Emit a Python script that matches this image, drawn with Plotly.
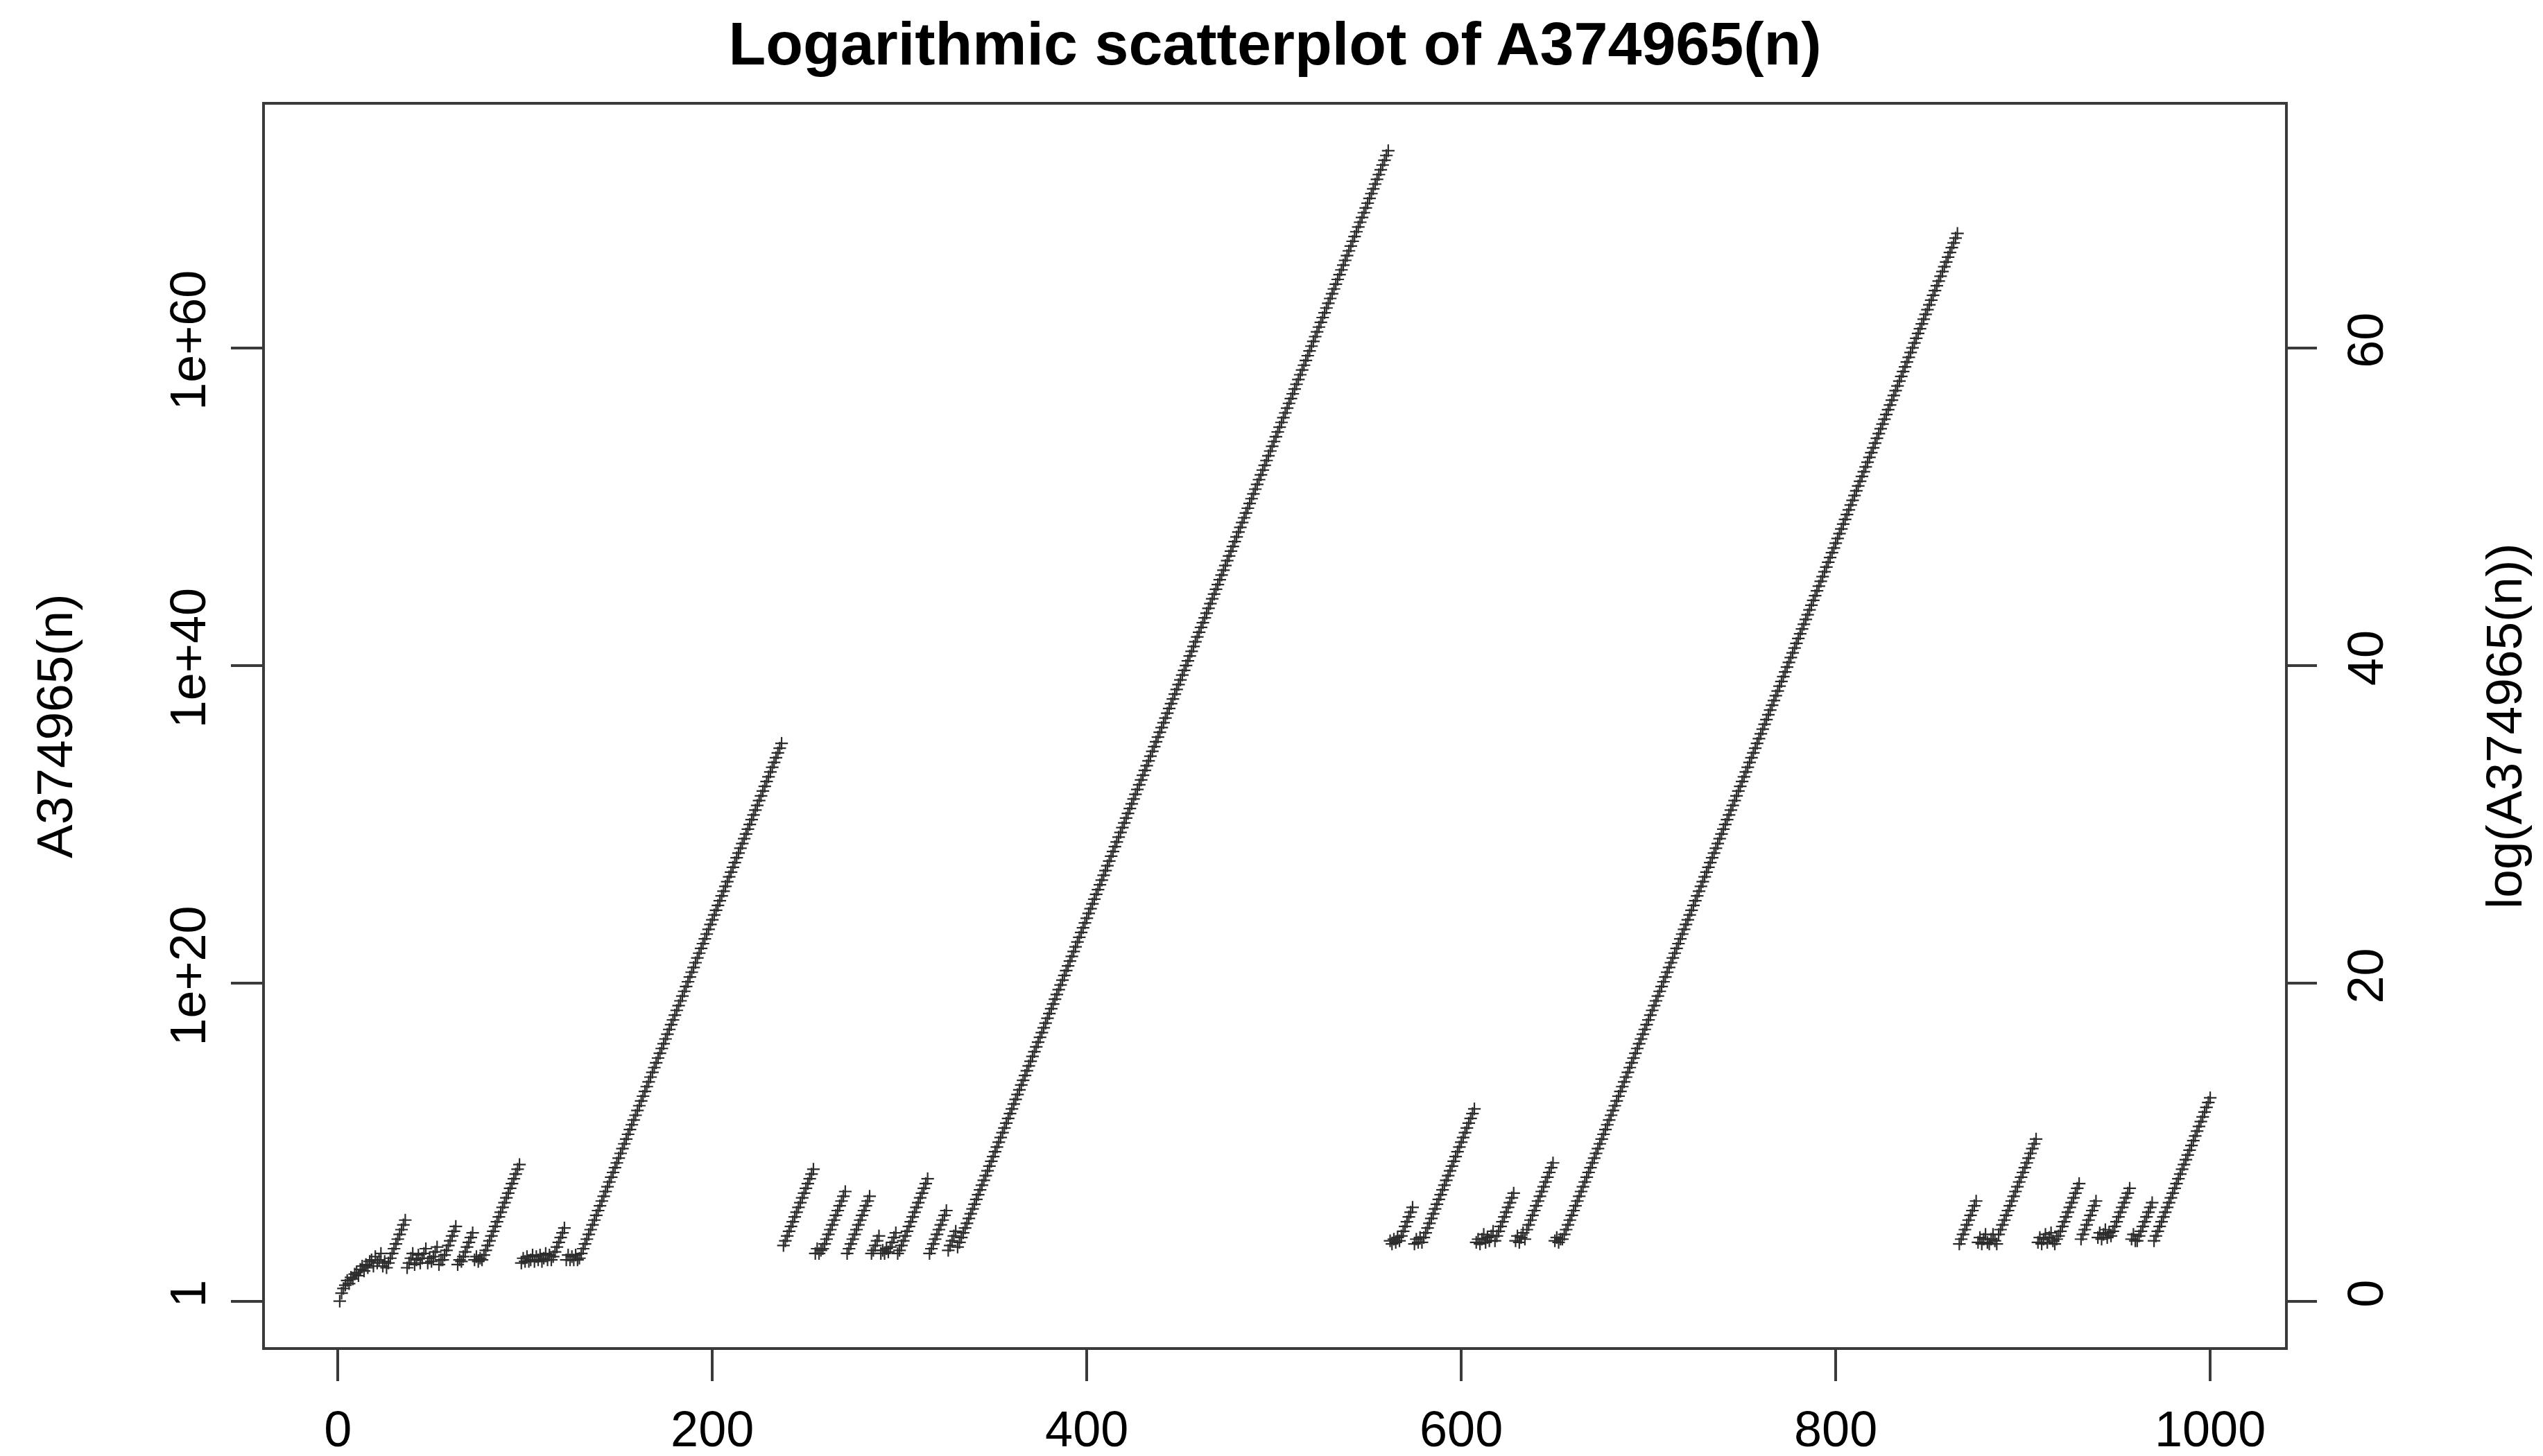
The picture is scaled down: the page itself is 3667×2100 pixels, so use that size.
import plotly.graph_objects as go

# log10 of A374965(n), in consecutive blocks of n (n = 1..1000)
log_a_0001_0036 = [0.0, 0.5, 0.8, 1.0, 1.3, 1.1, 1.5, 1.4, 1.7, 1.8, 1.6, 2.0, 2.2, 1.9, 2.3, 2.1, 2.5, 2.6,
                   2.2, 2.8, 2.4, 2.6, 3.0, 2.2, 2.5, 2.1, 2.4, 2.7, 3.0, 3.3, 3.6, 3.9, 4.2, 4.5, 4.8, 5.1]
log_a_0037_0077 = [2.1, 2.4, 2.7, 3.0, 2.3, 2.6, 2.9, 2.4, 2.7, 3.0, 3.3, 2.4, 2.7, 2.5, 2.8, 3.1, 3.4, 2.3,
                   2.6, 2.6, 2.9, 3.2, 3.5, 3.8, 4.1, 4.4, 4.7, 2.3, 2.6, 2.5, 2.8, 3.1, 3.4, 3.7, 4.0, 4.3,
                   2.6, 2.8, 2.5, 2.7, 2.6]
log_a_0078_0097 = [2.9, 3.2, 3.5, 3.8, 4.1, 4.4, 4.7, 5.0, 5.3, 5.6, 5.9, 6.2, 6.5, 6.8, 7.1, 7.4, 7.7, 8.0,
                   8.3, 8.6]
log_a_0098_0128 = [2.4, 2.7, 2.5, 2.8, 2.5, 2.6, 2.9, 2.5, 2.8, 2.6, 2.9, 2.5, 2.7, 3.0, 2.6, 2.9, 2.6, 2.8,
                   3.1, 3.4, 3.7, 4.0, 4.3, 4.6, 2.6, 2.9, 2.6, 2.8, 2.6, 2.9, 2.6]
log_a_0129_0237 = [2.7, 3.0, 3.3, 3.6, 3.9, 4.2, 4.5, 4.8, 5.1, 5.4, 5.7, 6.0, 6.3, 6.6, 6.9, 7.2, 7.5, 7.8,
                   8.1, 8.4, 8.7, 9.0, 9.3, 9.6, 9.9, 10.2, 10.5, 10.8, 11.1, 11.4, 11.7, 12.0, 12.3, 12.6,
                   12.9, 13.2, 13.5, 13.8, 14.1, 14.4, 14.7, 15.0, 15.3, 15.6, 15.9, 16.2, 16.5, 16.8, 17.1,
                   17.4, 17.7, 18.0, 18.3, 18.6, 18.9, 19.2, 19.5, 19.8, 20.1, 20.4, 20.7, 21.0, 21.3, 21.6,
                   21.9, 22.2, 22.5, 22.8, 23.1, 23.4, 23.7, 24.0, 24.3, 24.6, 24.9, 25.2, 25.5, 25.8, 26.1,
                   26.4, 26.7, 27.0, 27.3, 27.6, 27.9, 28.2, 28.5, 28.8, 29.1, 29.4, 29.7, 30.0, 30.3, 30.6,
                   30.9, 31.2, 31.5, 31.8, 32.1, 32.4, 32.7, 33.0, 33.3, 33.6, 33.9, 34.2, 34.5, 34.8, 35.1]
log_a_0238_0330 = [3.5, 3.8, 4.1, 4.4, 4.7, 5.0, 5.3, 5.6, 5.9, 6.2, 6.5, 6.8, 7.1, 7.4, 7.7, 8.0, 8.3,
                   3.0, 3.3, 3.0, 3.2,
                   3.3, 3.6, 3.9, 4.2, 4.5, 4.8, 5.1, 5.4, 5.7, 6.0, 6.3, 6.6, 6.9,
                   3.0, 3.3, 3.6, 3.9, 4.2, 4.5, 4.8, 5.1, 5.4, 5.7, 6.0, 6.3, 6.6,
                   3.0, 3.2, 3.5, 3.8, 4.1, 3.0, 3.2, 3.0, 3.3, 3.1, 3.4, 3.7, 4.0, 4.3, 3.0, 3.2,
                   3.5, 3.8, 4.1, 4.4, 4.7, 5.0, 5.3, 5.6, 5.9, 6.2, 6.5, 6.8, 7.1, 7.4, 7.7,
                   3.0, 3.3, 3.6, 3.9, 4.2, 4.5, 4.8, 5.1, 5.4, 5.7,
                   3.2, 3.5, 3.8, 4.1, 4.4]
log_a_0331_0561 = [3.4, 3.7, 4.0, 4.3, 4.6, 4.9, 5.2, 5.5, 5.8, 6.1, 6.4, 6.7, 7.0, 7.3, 7.6, 7.9, 8.2, 8.5,
                   8.8, 9.1, 9.4, 9.7, 10.0, 10.3, 10.6, 10.9, 11.2, 11.5, 11.8, 12.1, 12.4, 12.7, 13.0,
                   13.3, 13.6, 13.9, 14.2, 14.5, 14.8, 15.1, 15.4, 15.7, 16.0, 16.3, 16.6, 16.9, 17.2, 17.5,
                   17.8, 18.1, 18.4, 18.7, 19.0, 19.3, 19.6, 19.9, 20.2, 20.5, 20.8, 21.1, 21.4, 21.7, 22.0,
                   22.3, 22.6, 22.9, 23.2, 23.5, 23.8, 24.1, 24.4, 24.7, 25.0, 25.3, 25.6, 25.9, 26.2, 26.5,
                   26.8, 27.1, 27.4, 27.7, 28.0, 28.3, 28.6, 28.9, 29.2, 29.5, 29.8, 30.1, 30.4, 30.7, 31.0,
                   31.3, 31.6, 31.9, 32.2, 32.5, 32.8, 33.1, 33.4, 33.7, 34.0, 34.3, 34.6, 34.9, 35.2, 35.5,
                   35.8, 36.1, 36.4, 36.7, 37.0, 37.3, 37.6, 37.9, 38.2, 38.5, 38.8, 39.1, 39.4, 39.7, 40.0,
                   40.3, 40.6, 40.9, 41.2, 41.5, 41.8, 42.1, 42.4, 42.7, 43.0, 43.3, 43.6, 43.9, 44.2, 44.5,
                   44.8, 45.1, 45.4, 45.7, 46.0, 46.3, 46.6, 46.9, 47.2, 47.5, 47.8, 48.1, 48.4, 48.7, 49.0,
                   49.3, 49.6, 49.9, 50.2, 50.5, 50.8, 51.1, 51.4, 51.7, 52.0, 52.3, 52.6, 52.9, 53.2, 53.5,
                   53.8, 54.1, 54.4, 54.7, 55.0, 55.3, 55.6, 55.9, 56.2, 56.5, 56.8, 57.1, 57.4, 57.7, 58.0,
                   58.3, 58.6, 58.9, 59.2, 59.5, 59.8, 60.1, 60.4, 60.7, 61.0, 61.3, 61.6, 61.9, 62.2, 62.5,
                   62.8, 63.1, 63.4, 63.7, 64.0, 64.3, 64.6, 64.9, 65.2, 65.5, 65.8, 66.1, 66.4, 66.7, 67.0,
                   67.3, 67.6, 67.9, 68.2, 68.5, 68.8, 69.1, 69.4, 69.7, 70.0, 70.3, 70.6, 70.9, 71.2, 71.5,
                   71.8, 72.1, 72.4]
log_a_0562_0653 = [3.8, 3.6, 3.9, 3.7, 4.0, 3.8,
                   4.1, 4.4, 4.7, 5.0, 5.3, 5.6, 5.9,
                   3.6, 3.9, 3.7, 4.0,
                   3.7, 4.0, 4.3, 4.6, 4.9, 5.2, 5.5, 5.8, 6.1, 6.4, 6.7, 7.0, 7.3, 7.6, 7.9, 8.2, 8.5,
                   8.8, 9.1, 9.4, 9.7, 10.0, 10.3, 10.6, 10.9, 11.2, 11.5, 11.8, 12.1,
                   3.7, 3.9, 3.6, 3.9, 4.2, 3.7, 4.0, 3.8, 4.1, 4.4, 3.8,
                   4.1, 4.4, 4.7, 5.0, 5.3, 5.6, 5.9, 6.2, 6.5, 6.8,
                   3.8, 4.1, 3.7, 4.0, 4.3, 3.9,
                   4.5, 4.8, 5.1, 5.4, 5.7, 6.0, 6.3, 6.6, 6.9, 7.2, 7.5, 7.8, 8.1, 8.4, 8.7,
                   3.8, 4.0, 3.7, 3.9]
log_a_0654_0865 = [3.9, 4.2, 4.5, 4.8, 5.1, 5.4, 5.7, 6.0, 6.3, 6.6, 6.9, 7.2, 7.5, 7.8, 8.1, 8.4, 8.7, 9.0,
                   9.3, 9.6, 9.9, 10.2, 10.5, 10.8, 11.1, 11.4, 11.7, 12.0, 12.3, 12.6, 12.9, 13.2, 13.5,
                   13.8, 14.1, 14.4, 14.7, 15.0, 15.3, 15.6, 15.9, 16.2, 16.5, 16.8, 17.1, 17.4, 17.7, 18.0,
                   18.3, 18.6, 18.9, 19.2, 19.5, 19.8, 20.1, 20.4, 20.7, 21.0, 21.3, 21.6, 21.9, 22.2, 22.5,
                   22.8, 23.1, 23.4, 23.7, 24.0, 24.3, 24.6, 24.9, 25.2, 25.5, 25.8, 26.1, 26.4, 26.7, 27.0,
                   27.3, 27.6, 27.9, 28.2, 28.5, 28.8, 29.1, 29.4, 29.7, 30.0, 30.3, 30.6, 30.9, 31.2, 31.5,
                   31.8, 32.1, 32.4, 32.7, 33.0, 33.3, 33.6, 33.9, 34.2, 34.5, 34.8, 35.1, 35.4, 35.7, 36.0,
                   36.3, 36.6, 36.9, 37.2, 37.5, 37.8, 38.1, 38.4, 38.7, 39.0, 39.3, 39.6, 39.9, 40.2, 40.5,
                   40.8, 41.1, 41.4, 41.7, 42.0, 42.3, 42.6, 42.9, 43.2, 43.5, 43.8, 44.1, 44.4, 44.7, 45.0,
                   45.3, 45.6, 45.9, 46.2, 46.5, 46.8, 47.1, 47.4, 47.7, 48.0, 48.3, 48.6, 48.9, 49.2, 49.5,
                   49.8, 50.1, 50.4, 50.7, 51.0, 51.3, 51.6, 51.9, 52.2, 52.5, 52.8, 53.1, 53.4, 53.7, 54.0,
                   54.3, 54.6, 54.9, 55.2, 55.5, 55.8, 56.1, 56.4, 56.7, 57.0, 57.3, 57.6, 57.9, 58.2, 58.5,
                   58.8, 59.1, 59.4, 59.7, 60.0, 60.3, 60.6, 60.9, 61.2, 61.5, 61.8, 62.1, 62.4, 62.7, 63.0,
                   63.3, 63.6, 63.9, 64.2, 64.5, 64.8, 65.1, 65.4, 65.7, 66.0, 66.3, 66.6, 66.9, 67.2]
log_a_0866_1000 = [3.6, 3.9, 4.2, 4.5, 4.8, 5.1, 5.4, 5.7, 6.0, 6.3,
                   3.7, 4.0, 3.6, 3.9, 4.2, 3.7, 3.6, 3.9, 4.2, 3.8, 3.6,
                   4.2, 4.5, 4.8, 5.1, 5.4, 5.7, 6.0, 6.3, 6.6, 6.9, 7.2, 7.5, 7.8, 8.1, 8.4, 8.7, 9.0,
                   9.3, 9.6, 9.9, 10.2,
                   3.7, 4.0, 3.6, 3.9, 4.2, 3.7, 4.0, 4.3, 3.8, 3.6, 3.9,
                   4.1, 4.4, 4.7, 5.0, 5.3, 5.6, 5.9, 6.2, 6.5, 6.8, 7.1, 7.4,
                   3.9, 4.2, 4.5, 4.8, 5.1, 5.4, 5.7, 6.0, 6.3,
                   4.0, 4.3, 3.9, 4.2, 4.5, 4.0, 4.3,
                   4.1, 4.4, 4.7, 5.0, 5.3, 5.6, 5.9, 6.2, 6.5, 6.8, 7.1,
                   3.9, 4.2, 3.8,
                   3.8, 4.1, 4.4, 4.7, 5.0, 5.3, 5.6, 5.9, 6.2,
                   3.8, 4.1, 4.4, 4.7, 5.0, 5.3, 5.6, 5.9, 6.2, 6.5, 6.8, 7.1, 7.4, 7.7, 8.0, 8.3, 8.6,
                   8.9, 9.2, 9.5, 9.8, 10.1, 10.4, 10.7, 11.0, 11.3, 11.6, 11.9, 12.2, 12.5, 12.8]

x_ticks = [0, 200, 400, 600, 800, 1000]
y_ticks = [0, 20, 40, 60]
y_left_labels = ["1", "1e+20", "1e+40", "1e+60"]
y_right_labels = ["0", "20", "40", "60"]

log_a = (log_a_0001_0036 + log_a_0037_0077 + log_a_0078_0097 + log_a_0098_0128 + log_a_0129_0237
         + log_a_0238_0330 + log_a_0331_0561 + log_a_0562_0653 + log_a_0654_0865 + log_a_0866_1000)
n = list(range(1, len(log_a) + 1))

W, H = 3667, 2100
L_M, R_M, T_M, B_M = 374, 380, 143, 165
FONT = "Liberation Sans, Arial, Helvetica, sans-serif"
INK = "#2b2b2b"
FRAME = "#3a3a3a"

fig = go.Figure()
fig.add_trace(go.Scatter(
    x=n, y=log_a, mode="markers", showlegend=False, hoverinfo="skip",
    marker=dict(symbol="cross-thin", size=13, color=INK, line=dict(width=2.2, color=INK)),
))
fig.add_trace(go.Scatter(x=[], y=[], yaxis="y2", showlegend=False, hoverinfo="skip"))

ymin = -0.04 * max(log_a)
ymax = 1.04 * max(log_a)
xmin = 1 - 0.04 * (len(n) - 1)
xmax = len(n) + 0.04 * (len(n) - 1)

axis_common = dict(
    showgrid=False, zeroline=False, ticks="outside", ticklen=45, tickwidth=4, tickcolor=FRAME,
    tickfont=dict(family=FONT, size=72, color="black"),
)

fig.update_layout(
    width=W, height=H,
    margin=dict(l=L_M, r=R_M, t=T_M, b=B_M, autoexpand=False),
    paper_bgcolor="white", plot_bgcolor="white",
    title=dict(text="Logarithmic scatterplot of A374965(n)", x=0.5, xref="paper", xanchor="center",
               y=1 - 54 / H, yref="container", yanchor="middle",
               font=dict(family=FONT, size=88, color="black", weight="bold")),
    xaxis=dict(range=[xmin, xmax], tickvals=x_ticks, ticktext=[str(v) for v in x_ticks],
               showline=True, linewidth=4, linecolor=FRAME, mirror=True, ticklabelstandoff=8,
               **axis_common),
    yaxis=dict(range=[ymin, ymax], tickvals=y_ticks, ticktext=y_left_labels, tickangle=-90,
               showline=True, linewidth=4, linecolor=FRAME, mirror=True, ticklabelstandoff=8,
               **axis_common),
    yaxis2=dict(range=[ymin, ymax], tickvals=y_ticks, ticktext=y_right_labels, tickangle=-90,
                overlaying="y", side="right", showline=False, ticklabelstandoff=9, **axis_common),
    annotations=[
        dict(text="A374965(n)", xref="paper", yref="paper", x=(70 - L_M) / (W - L_M - R_M), y=0.5,
             textangle=-90, showarrow=False, xanchor="center", yanchor="middle",
             font=dict(family=FONT, size=73, color="black")),
        dict(text="log(A374965(n))", xref="paper", yref="paper", x=(3602 - L_M) / (W - L_M - R_M), y=0.5,
             textangle=-90, showarrow=False, xanchor="center", yanchor="middle",
             font=dict(family=FONT, size=73, color="black")),
    ],
)

fig.write_html("out.html")
